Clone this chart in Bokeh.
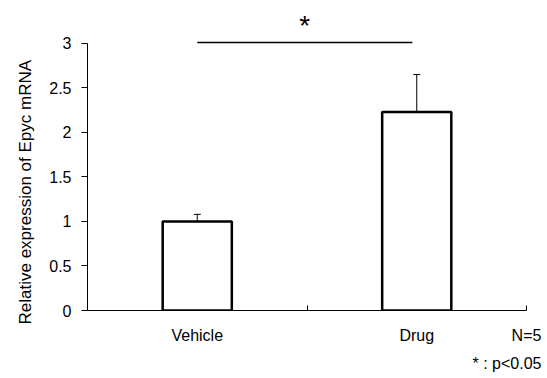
from bokeh.plotting import figure
from bokeh.models import Range1d, FixedTicker, Whisker, ColumnDataSource, TeeHead, Title
from bokeh.core.properties import value
from bokeh.embed import file_html
from bokeh.resources import INLINE

categories = ["Vehicle", "Drug"]
means = [1.0, 2.23]
errors = [0.08, 0.42]
y_ticks = [0, 0.5, 1, 1.5, 2, 2.5, 3]
y_tick_labels = ["0", "0.5", "1", "1.5", "2", "2.5", "3"]
y_title = "Relative expression of Epyc mRNA"
sig_mark = "*"
sig_level = 3.01
n_note = "N=5"
p_note = "* : p<0.05"

FONT = "Liberation Sans"

xs = [i + 0.5 for i in range(len(categories))]
bounds = [i + 1 for i in range(len(categories))]
n_pos = len(categories)

p = figure(width=547, height=378, x_range=Range1d(0, len(categories)),
           y_range=Range1d(0, 3.347), output_backend="svg", toolbar_location=None,
           min_border_left=87, min_border_right=21, min_border_top=12, min_border_bottom=67)
p.xgrid.visible = False
p.ygrid.visible = False
p.outline_line_color = None

# y axis
p.yaxis.ticker = FixedTicker(ticks=y_ticks)
p.yaxis.major_label_overrides = {t: l for t, l in zip(y_ticks, y_tick_labels)}
p.yaxis.bounds = (0, 3)
p.yaxis.minor_tick_line_color = None
p.yaxis.major_tick_in = 0
p.yaxis.major_tick_out = 6
p.yaxis.major_label_standoff = 10
p.yaxis.major_label_text_font = FONT
p.yaxis.major_label_text_font_size = "16px"
p.yaxis.major_label_text_color = "black"
p.yaxis.axis_line_color = "black"
p.yaxis.major_tick_line_color = "black"

# x axis
p.xaxis.ticker = FixedTicker(ticks=xs + [n_pos], minor_ticks=bounds)
labels = {x: c for x, c in zip(xs, categories)}
labels[n_pos] = n_note
p.xaxis.major_label_overrides = labels
p.xaxis.major_tick_line_color = None
p.xaxis.minor_tick_in = 5
p.xaxis.minor_tick_out = 0
p.xaxis.minor_tick_line_color = "black"
p.xaxis.axis_line_color = "black"
p.xaxis.major_label_standoff = 10
p.xaxis.major_label_text_font = FONT
p.xaxis.major_label_text_font_size = "16px"
p.xaxis.major_label_text_color = "black"

# bars
p.vbar(x=xs, top=means, width=0.315, fill_color="white", line_color="black", line_width=2.5)

# error bars
src = ColumnDataSource(data=dict(x=xs, lower=means, upper=[m + e for m, e in zip(means, errors)]))
p.add_layout(Whisker(base="x", lower="lower", upper="upper", source=src, line_width=1,
                     line_color="black", lower_head=None,
                     upper_head=TeeHead(size=7, line_width=1, line_color="black")))

# significance
p.segment(x0=[xs[0]], y0=[sig_level], x1=[xs[1] - 0.02], y1=[sig_level], line_color="black", line_width=1.5)
p.text(x=[(xs[0] + xs[1]) / 2 - 0.011], y=[3.196], text=[sig_mark], text_align="center",
       text_baseline="middle", text_font_size="28px", text_font=value(FONT), text_color="black")

# y title as a left-side title
p.add_layout(Title(text=y_title, align="left", offset=-14, standoff=24, text_font=FONT,
                   text_font_size="17px", text_font_style="normal", text_color="black"), "left")
# footnote
p.add_layout(Title(text=p_note, align="right", offset=-15, standoff=13, text_font=FONT,
                   text_font_size="16px", text_font_style="normal", text_color="black"), "below")

open("out.html", "w").write(file_html(p, INLINE))
